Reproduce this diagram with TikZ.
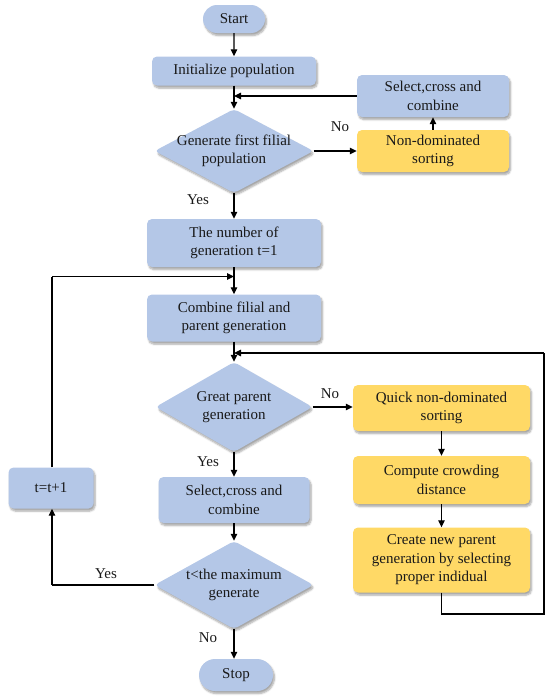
\documentclass[tikz,border=0pt]{standalone}
\usepackage{fontspec}
\setmainfont{Liberation Serif}
\usetikzlibrary{shapes.geometric,shapes.misc,arrows.meta,shadows.blur}
\definecolor{boxblue}{RGB}{180,199,231}
\definecolor{boxyellow}{RGB}{255,217,102}
\definecolor{txt}{RGB}{25,25,25}
\begin{document}
\begin{tikzpicture}[x=1pt,y=-1pt,
  every node/.style={font=\fontsize{15}{18.5}\selectfont, text=txt},
  shad/.style={blur shadow={shadow blur steps=6, shadow xshift=1.5pt, shadow yshift=-2.5pt, shadow opacity=35}},
  bluebox/.style={rectangle, rounded corners=5pt, fill=boxblue, shad, align=center, inner sep=0pt},
  yellowbox/.style={rectangle, rounded corners=5pt, fill=boxyellow, shad, align=center, inner sep=0pt},
  pill/.style={rounded rectangle, fill=boxblue, shad, inner sep=0pt},
  dia/.style={diamond, rounded corners=4pt, fill=boxblue, shad, inner sep=0pt},
  lab/.style={inner sep=0pt},
  conn/.style={draw=black, line width=1.1pt, -{Triangle[length=7pt,width=6.5pt]}},
  line/.style={draw=black, line width=1.1pt}
]
\useasboundingbox (0,0) rectangle (550,696);

% nodes
\node[pill, minimum width=62pt, minimum height=28pt] (start) at (234,19) {Start};
\node[bluebox, minimum width=164pt, minimum height=29pt] (init) at (234,71) {Initialize population};
\node[bluebox, minimum width=152pt, minimum height=42pt] (sel1) at (433,96) {Select,cross and\\combine};
\node[dia, minimum width=159pt, minimum height=84pt,
  label={[align=center, font=\fontsize{15}{18.5}\selectfont, text=txt]center:Generate first filial\\population}] (d1) at (234,151) {};
\node[yellowbox, minimum width=152pt, minimum height=42pt] (nds) at (433,151) {Non-dominated\\sorting};
\node[bluebox, minimum width=174pt, minimum height=48pt] (gen1) at (234,243) {The number of\\generation t=1};
\node[bluebox, minimum width=174pt, minimum height=47pt] (comb) at (234,318) {Combine filial and\\parent generation};
\node[dia, minimum width=157pt, minimum height=90pt,
  label={[align=center, font=\fontsize{15}{18.5}\selectfont, text=txt]center:Great parent\\generation}] (d2) at (234,407) {};
\node[yellowbox, minimum width=177pt, minimum height=46pt] (quick) at (441.5,408) {Quick non-dominated\\sorting};
\node[yellowbox, minimum width=177pt, minimum height=48pt] (crowd) at (441.5,480) {Compute crowding\\distance};
\node[yellowbox, minimum width=177pt, minimum height=65pt] (create) at (441.5,560) {Create new parent\\generation by selecting\\proper indidual};
\node[bluebox, minimum width=151pt, minimum height=46pt] (sel2) at (234,500) {Select,cross and\\combine};
\node[bluebox, minimum width=85pt, minimum height=41pt] (tinc) at (51,488) {t=t+1};
\node[dia, minimum width=159pt, minimum height=88pt,
  label={[align=center, font=\fontsize{15}{18.5}\selectfont, text=txt]center:t<the maximum\\generate}] (d3) at (234,585) {};
\node[pill, minimum width=74pt, minimum height=32pt] (stop) at (236,675) {Stop};

% helper coordinates
\coordinate (m1) at (234,96);
\coordinate (m2) at (234,276.5);
\coordinate (m3) at (234,353);
\coordinate (rb) at (441.5,614);
\coordinate (rc) at (544,614);
\coordinate (rt) at (544,353);
\coordinate (lb) at (52,585);
\coordinate (lt) at (52,276.5);

% connectors
\draw[conn] (start) -- (init);
\draw[conn] (init) -- (d1.north);
\draw[conn] (sel1.west) -- (m1);
\draw[conn] (d1.east) -- (nds.west);
\draw[conn] (nds) -- (sel1);
\draw[conn] (d1.south) -- (gen1);
\draw[conn] (gen1) -- (comb);
\draw[conn] (lt) -- (m2);
\draw[conn] (comb) -- (d2.north);
\draw[conn] (rt) -- (m3);
\draw[conn] (d2.east) -- (d2.east -| quick.west);
\draw[conn] (quick) -- (crowd);
\draw[conn] (crowd) -- (create);
\draw[line] (create.south) |- (rc) -- (rt);
\draw[conn] (d2.south) -- (sel2);
\draw[conn] (sel2) -- (d3.north);
\draw[line] (d3.west) -- (lb);
\draw[conn] (lb) -- (tinc.south -| lb);
\draw[line] (tinc.north -| lt) -- (lt);
\draw[conn] (d3.south) -- (d3.south |- stop.north);

% labels
\node[lab] (no1) at (340,127) {No};
\node[lab] (yes1) at (198,200) {Yes};
\node[lab] (no2) at (330,394) {No};
\node[lab] (yes2) at (208,462) {Yes};
\node[lab] (yes3) at (106,574) {Yes};
\node[lab] (no3) at (208,638) {No};
\end{tikzpicture}
\end{document}
